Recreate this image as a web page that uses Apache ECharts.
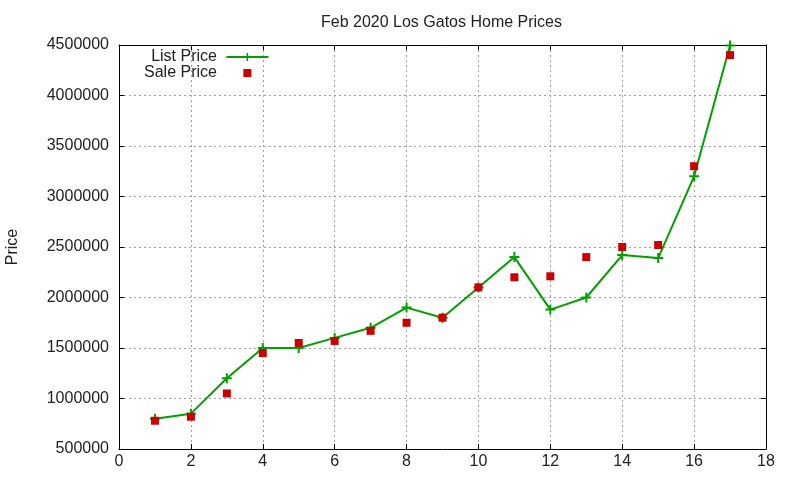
<!DOCTYPE html>
<html>
<head>
<meta charset="utf-8">
<script src="https://cdn.jsdelivr.net/npm/echarts@6/dist/echarts.min.js"></script>
<style>html,body{margin:0;padding:0;background:#fff}#c{width:800px;height:480px}</style>
</head>
<body>
<div id="c"></div>
<script>
var xValues = [1,2,3,4,5,6,7,8,9,10,11,12,13,14,15,16,17];
var listPrice = [800000,850000,1200000,1500000,1500000,1600000,1700000,1900000,1800000,2100000,2400000,1880000,2000000,2420000,2390000,3200000,4495000];
var salePrice = [780000,820000,1050000,1450000,1550000,1570000,1670000,1750000,1800000,2100000,2200000,2210000,2400000,2500000,2520000,3300000,4400000];
var titleText = 'Feb 2020 Los Gatos Home Prices';
var yName = 'Price';

function pairs(xs, ys){ return xs.map(function(x,i){ return [x, ys[i]]; }); }

var font = 'Liberation Sans, Arial, sans-serif';
var chart = echarts.init(document.getElementById('c'));
var gridLine = {show:true, lineStyle:{color:'#a0a0a0', type:[2,3], width:1}};
var axisLine = {show:true, onZero:false, lineStyle:{color:'#000', width:1}};
var tick = {show:true, inside:true, length:5, lineStyle:{color:'#000', width:1}};
var plusPath = 'path://M4,0H6V4H10V6H6V10H4V6H0V4H4Z';
var squareIcon = 'path://M0,0L0,0M17,1H25V9H17ZM42,10L42,10';
chart.setOption({
  animation:false,
  backgroundColor:'#fff',
  textStyle:{fontFamily:font},
  title:{text:titleText, left:316, top:10, textStyle:{fontFamily:font, fontSize:16, fontWeight:'normal', color:'#222'}},
  grid:{left:119, right:34, top:45, bottom:31, containLabel:false, outerBoundsMode:'none'},
  legend:{
    orient:'vertical', align:'right', left:139, top:44, itemWidth:42, itemHeight:10, itemGap:0,
    textStyle:{fontFamily:font, fontSize:16, color:'#222'},
    formatter:function(n){ return n + ' '; },
    data:[{name:'List Price'},{name:'Sale Price', icon:squareIcon}]
  },
  xAxis:[
    {type:'value', min:0, max:18, interval:2, position:'bottom', axisLine:axisLine, axisTick:tick, splitLine:gridLine,
     axisLabel:{fontFamily:font, fontSize:16, color:'#222', margin:5}},
    {type:'value', min:0, max:18, interval:2, position:'top', axisLine:axisLine, axisTick:tick, splitLine:{show:false}, axisLabel:{show:false}}
  ],
  yAxis:[
    {type:'value', min:500000, max:4500000, interval:500000, position:'left', axisLine:axisLine, axisTick:tick, splitLine:gridLine,
     name:yName, nameLocation:'middle', nameGap:98, nameTextStyle:{fontFamily:font, fontSize:16, color:'#222'},
     axisLabel:{fontFamily:font, fontSize:16, color:'#222', margin:10, formatter:function(v){ return String(v); }}},
    {type:'value', min:500000, max:4500000, interval:500000, position:'right', axisLine:axisLine, axisTick:tick, splitLine:{show:false}, axisLabel:{show:false}}
  ],
  series:[
    {name:'List Price', type:'line', data:pairs(xValues, listPrice), color:'#00a000',
     lineStyle:{color:'#00a000', width:2}, itemStyle:{color:'#00a000'},
     symbol:plusPath, symbolSize:10, showAllSymbol:true, z:2},
    {name:'Sale Price', type:'scatter', data:pairs(xValues, salePrice), color:'#cc0000',
     itemStyle:{color:'#cc0000', opacity:1}, symbol:'rect', symbolSize:8, z:3}
  ]
});
</script>
</body>
</html>
